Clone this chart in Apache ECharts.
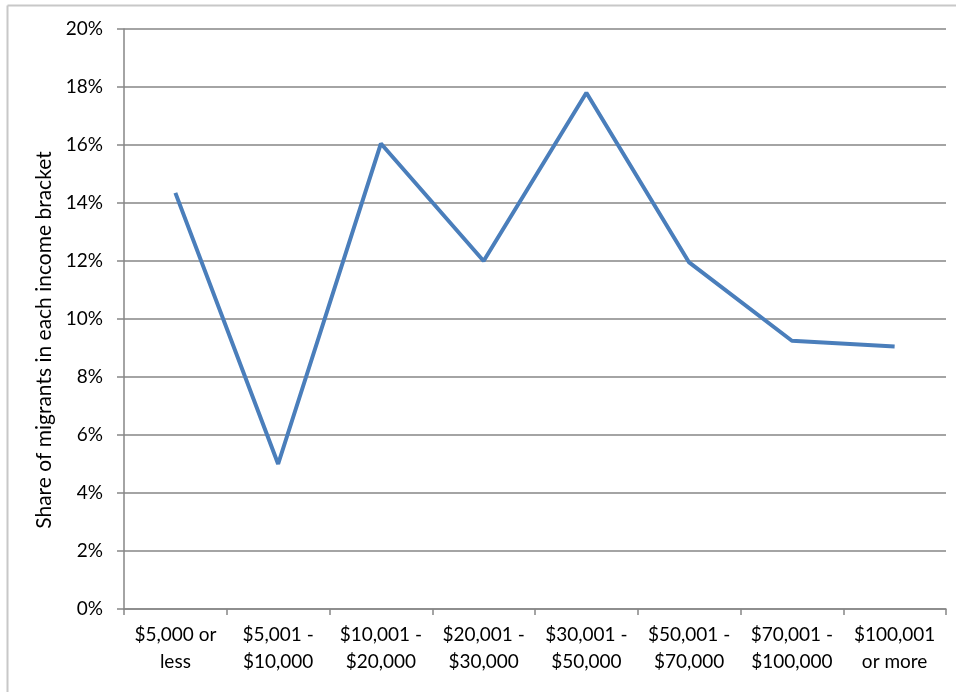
<!DOCTYPE html>
<html lang="en">
  <head>
    <meta charset="utf-8">
    <title>Migrants by income bracket</title>
    <script src="https://cdn.jsdelivr.net/npm/echarts@6/dist/echarts.min.js"></script>
    <style>
      html, body { margin: 0; padding: 0; background: #fff; }
      #chart { width: 959px; height: 692px; }
    </style>
  </head>
  <body>
    <div id="chart"></div>
    <script>
      // income brackets (x axis)
      var brackets = ['$5,000 or\nless', '$5,001 -\n$10,000', '$10,001 -\n$20,000', '$20,001 -\n$30,000',
                      '$30,001 -\n$50,000', '$50,001 -\n$70,000', '$70,001 -\n$100,000', '$100,001\nor more'];
      // share of migrants, percent
      var shares = [14.35, 5.0, 16.05, 12.0, 17.8, 11.95, 9.25, 9.05];
      var yTitle = 'Share of migrants in each income bracket';

      var font = 'Lato, "Open Sans", sans-serif';
      var chart = echarts.init(document.getElementById('chart'));
      chart.setOption({
        animation: false,
        grid: { left: 124, right: 13, top: 29, bottom: 83 },
        graphic: [
          { type: 'line', shape: { x1: 7.5, y1: 5.5, x2: 7.5, y2: 692 }, style: { stroke: '#c8c8c8', lineWidth: 2 } },
          { type: 'line', shape: { x1: 7.5, y1: 5.5, x2: 956, y2: 5.5 }, style: { stroke: '#c8c8c8', lineWidth: 2 } },
          {
            type: 'text', x: 44, y: 340, rotation: Math.PI / 2,
            style: { text: yTitle, fontFamily: font, fontSize: 21, fill: '#000', align: 'center', verticalAlign: 'middle' }
          }
        ],
        xAxis: {
          type: 'category',
          data: brackets,
          boundaryGap: true,
          axisLine: { lineStyle: { color: '#868686', width: 1.5 } },
          axisTick: { show: true, length: 6, lineStyle: { color: '#868686', width: 1.5 } },
          axisLabel: { color: '#000', fontFamily: font, fontSize: 19, lineHeight: 27, margin: 12, interval: 0 }
        },
        yAxis: {
          type: 'value',
          min: 0, max: 20, interval: 2,
          axisLine: { show: true, lineStyle: { color: '#868686', width: 1.5 } },
          axisTick: { show: true, length: 7, lineStyle: { color: '#868686', width: 1.5 } },
          splitLine: { lineStyle: { color: '#868686', width: 1.5 } },
          axisLabel: { color: '#000', fontFamily: font, fontSize: 19, margin: 21, formatter: '{value}%' }
        },
        series: [{
          type: 'line',
          data: shares,
          symbol: 'none',
          lineStyle: { color: '#4a7ebb', width: 4 }
        }]
      });
    </script>
  </body>
</html>
